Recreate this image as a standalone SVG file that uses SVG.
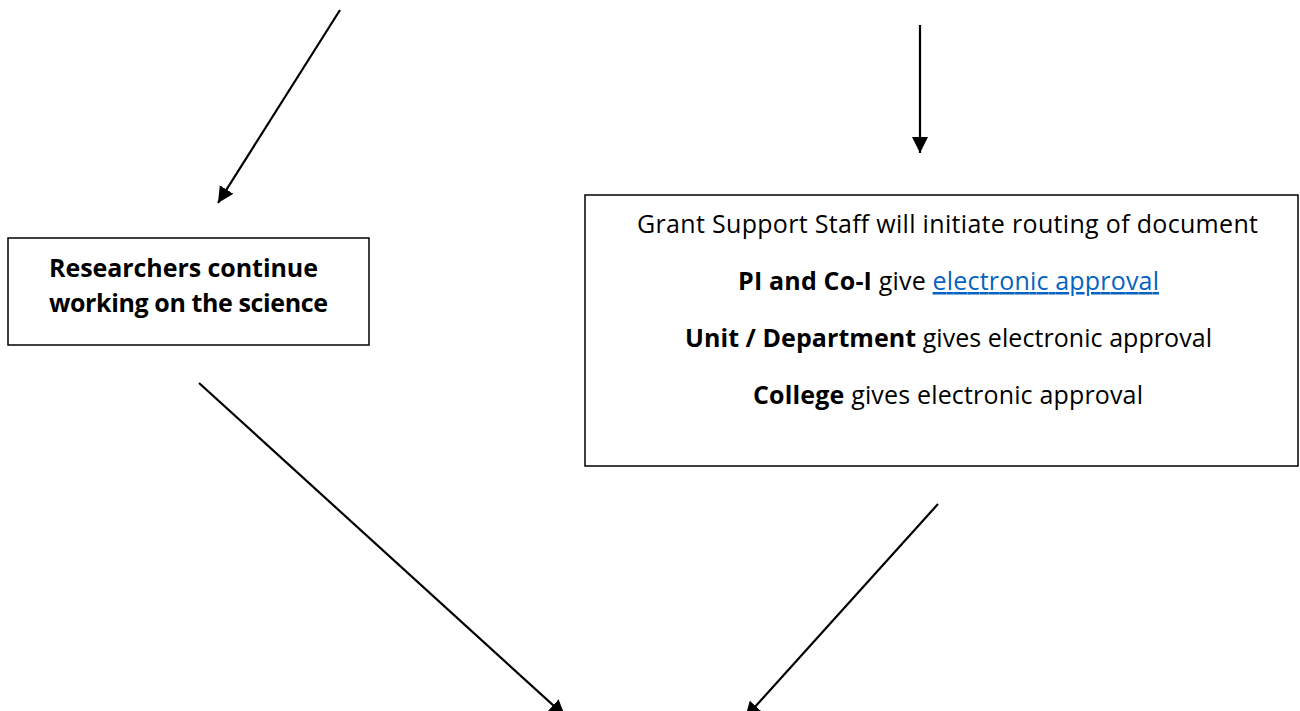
<svg xmlns="http://www.w3.org/2000/svg" width="1300" height="711" viewBox="0 0 1300 711">
  <style>
    .box { fill: #ffffff; stroke: #000000; stroke-width: 1.5; }
    .t { font-family: "Open Sans", Lato, "Liberation Sans", sans-serif; font-size: 25px; fill: #000000; }
    .b { font-weight: bold; }
    .link { fill: #0563C1; text-decoration: underline; }
    .conn { stroke: #000000; stroke-width: 2.2; fill: none; marker-end: url(#arrow); }
  </style>
  <defs>
    <marker id="arrow" markerUnits="userSpaceOnUse" markerWidth="17" markerHeight="17" viewBox="0 0 17 17" refX="16" refY="8.5" orient="auto">
      <path d="M0,0.5 L16,8.5 L0,16.5 Z" fill="#000000"/>
    </marker>
  </defs>
  <rect width="1300" height="711" fill="#ffffff"/>

  <g id="connectors">
    <line class="conn" x1="340" y1="10" x2="218" y2="203"/>
    <line class="conn" x1="920" y1="25" x2="920" y2="153"/>
    <line class="conn" x1="199" y1="383" x2="565" y2="716"/>
    <line class="conn" x1="938" y1="504" x2="745" y2="718"/>
  </g>

  <g id="node-researchers">
    <rect class="box" x="8" y="238" width="361" height="107"/>
    <text class="t b" x="49" y="277" textLength="269">Researchers continue</text>
    <text class="t b" x="49" y="312" textLength="279">working on the science</text>
  </g>

  <g id="node-routing">
    <rect class="box" x="585" y="195" width="713" height="271"/>
    <text class="t" x="637" y="233" textLength="621">Grant Support Staff will initiate routing of document</text>
    <text class="t" x="738" y="290" textLength="421"><tspan class="b">PI and Co-I</tspan> give <tspan class="link">electronic approval</tspan></text>
    <text class="t" x="685" y="347" textLength="527"><tspan class="b">Unit / Department</tspan> gives electronic approval</text>
    <text class="t" x="753" y="404" textLength="390"><tspan class="b">College</tspan> gives electronic approval</text>
  </g>
</svg>
